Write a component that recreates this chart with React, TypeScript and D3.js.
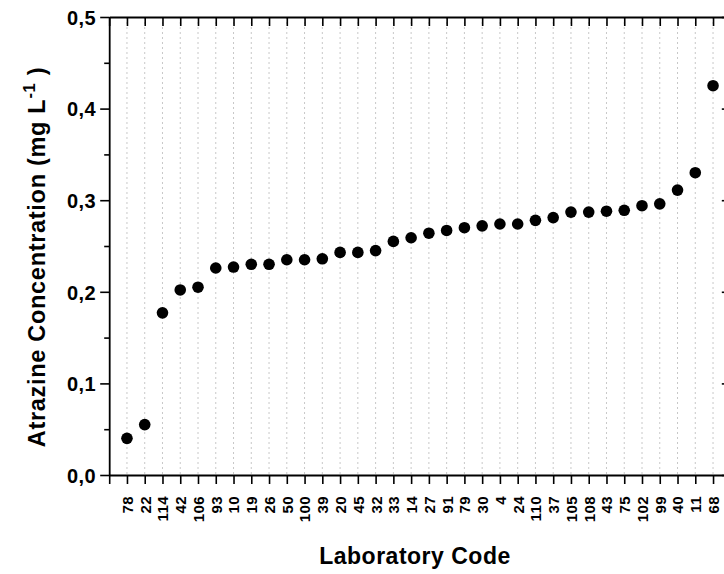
import React, { useEffect, useRef } from "react";
import * as d3 from "d3";

// Laboratory codes, in the order they appear along the x axis
const labCodes = [
  "78", "22", "114", "42", "106", "93", "10", "19", "26", "50", "100", "39",
  "20", "45", "32", "33", "14", "27", "91", "79", "30", "4", "24", "110",
  "37", "105", "108", "43", "75", "102", "99", "40", "11", "68",
];

// Reported atrazine concentration (mg/L) for each laboratory
const concentrations = [
  0.040, 0.055, 0.177, 0.202, 0.205, 0.226, 0.227, 0.230, 0.230, 0.235, 0.235, 0.236,
  0.243, 0.243, 0.245, 0.255, 0.259, 0.264, 0.267, 0.270, 0.272, 0.274, 0.274, 0.278,
  0.281, 0.287, 0.287, 0.288, 0.289, 0.294, 0.296, 0.311, 0.330, 0.425,
];

const majorTicks = [0, 0.1, 0.2, 0.3, 0.4, 0.5];
const minorTicks = [0.05, 0.15, 0.25, 0.35, 0.45];

const W = 724;
const H = 574;
const FONT = "'Liberation Sans', Arial, Helvetica, sans-serif";

export default function App() {
  const ref = useRef<SVGSVGElement | null>(null);

  useEffect(() => {
    const svg = d3.select(ref.current);
    svg.selectAll("*").remove();

    const left = 109.2;
    const step = 17.76;
    const right = left + step * (labCodes.length + 1);
    const top = 17;
    const bottom = 475;

    const x = d3.scaleLinear().domain([0, labCodes.length + 1]).range([left, right]);
    const y = d3.scaleLinear().domain([0, 0.5]).range([bottom, top]);
    const positions = d3.range(0, labCodes.length + 2);
    const catPos = d3.range(1, labCodes.length + 1);

    // dotted vertical grid at every laboratory
    svg.append("g")
      .selectAll("line")
      .data(catPos)
      .join("line")
      .attr("x1", (d) => x(d))
      .attr("x2", (d) => x(d))
      .attr("y1", top)
      .attr("y2", bottom)
      .attr("stroke", "#c8c8c8")
      .attr("stroke-width", 1)
      .attr("stroke-dasharray", "2,3");

    const styleAxis = (g: d3.Selection<SVGGElement, unknown, null, undefined>) => {
      g.selectAll("path").attr("stroke", "#000").attr("stroke-width", 1.8);
      g.selectAll("line").attr("stroke", "#000").attr("stroke-width", 1.6);
    };

    // left axis (major + minor)
    const gl = svg.append("g").attr("transform", `translate(${left},0)`)
      .call(
        d3.axisLeft(y).tickValues(majorTicks).tickSize(9).tickSizeOuter(0)
          .tickFormat((d) => (d as number).toFixed(1).replace(".", ","))
      );
    styleAxis(gl);
    gl.selectAll("text")
      .attr("font-family", FONT)
      .attr("font-weight", "bold")
      .attr("font-size", 20)
      .attr("letter-spacing", 0.5)
      .attr("fill", "#000")
      .attr("x", -13)
      .attr("dy", "0.36em");
    const glm = svg.append("g").attr("transform", `translate(${left},0)`)
      .call(d3.axisLeft(y).tickValues(minorTicks).tickSize(5).tickSizeOuter(0).tickFormat(() => ""));
    styleAxis(glm);
    glm.select("path").remove();

    // right axis, ticks pointing inward
    const gr = svg.append("g").attr("transform", `translate(${right},0)`)
      .call(d3.axisRight(y).tickValues(majorTicks).tickSize(-9).tickSizeOuter(0).tickFormat(() => ""));
    styleAxis(gr);
    const grm = svg.append("g").attr("transform", `translate(${right},0)`)
      .call(d3.axisRight(y).tickValues(minorTicks).tickSize(-5).tickSizeOuter(0).tickFormat(() => ""));
    styleAxis(grm);
    grm.select("path").remove();

    // top axis, ticks pointing inward
    const gt = svg.append("g").attr("transform", `translate(0,${top})`)
      .call(d3.axisTop(x).tickValues(positions).tickSize(-9).tickSizeOuter(0).tickFormat(() => ""));
    styleAxis(gt);

    // bottom axis with laboratory codes
    const gb = svg.append("g").attr("transform", `translate(0,${bottom})`)
      .call(
        d3.axisBottom(x).tickValues(positions).tickSize(9).tickSizeOuter(0)
          .tickFormat((d) => {
            const i = (d as number) - 1;
            return i >= 0 && i < labCodes.length ? labCodes[i] : "";
          })
      );
    styleAxis(gb);
    gb.selectAll("text")
      .attr("font-family", FONT)
      .attr("font-weight", "bold")
      .attr("font-size", 15)
      .attr("letter-spacing", 0.4)
      .attr("fill", "#000")
      .attr("text-anchor", "end")
      .attr("x", 0)
      .attr("y", 0)
      .attr("dy", "0.36em")
      .attr("transform", "translate(0,21) rotate(-90)");

    // data points
    svg.append("g")
      .selectAll("circle")
      .data(concentrations)
      .join("circle")
      .attr("cx", (_, i) => x(i + 1))
      .attr("cy", (d) => y(d))
      .attr("r", 5.8)
      .attr("fill", "#000");

    // axis titles
    svg.append("text")
      .attr("x", 415)
      .attr("y", 564)
      .attr("text-anchor", "middle")
      .attr("font-family", FONT)
      .attr("font-weight", "bold")
      .attr("font-size", 23)
      .attr("letter-spacing", 0.5)
      .text("Laboratory Code");

    const yt = svg.append("text")
      .attr("transform", `translate(45,257) rotate(-90)`)
      .attr("text-anchor", "middle")
      .attr("font-family", FONT)
      .attr("font-weight", "bold")
      .attr("font-size", 23.5)
      .attr("letter-spacing", 0.7);
    yt.append("tspan").text("Atrazine Concentration (mg L");
    yt.append("tspan").attr("font-size", 16.5).attr("dy", -10).text("-1");
    yt.append("tspan").attr("dy", 10).text(" )");
  }, []);

  return (
    <svg
      ref={ref}
      width={W}
      height={H}
      style={{ position: "absolute", left: 0, top: 0, background: "#fff" }}
    />
  );
}
